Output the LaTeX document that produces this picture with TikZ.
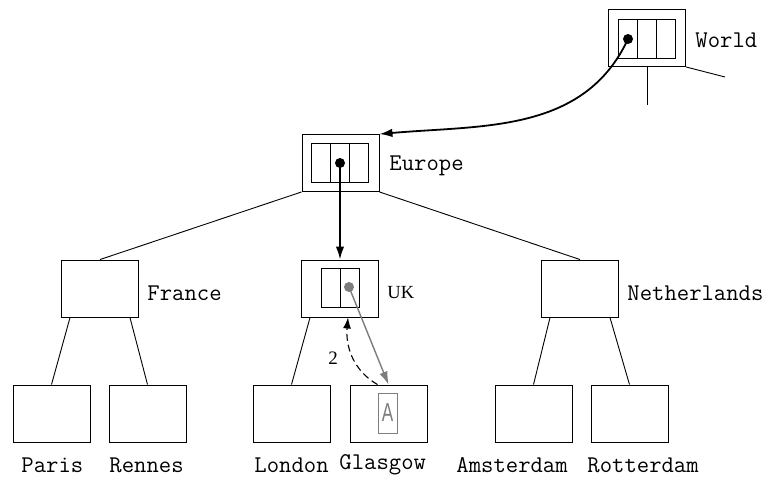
\documentclass[tikz,border=0pt]{standalone}
\usepackage{fontspec}
\setmainfont{Liberation Serif}
\setsansfont{Liberation Sans}
\usetikzlibrary{arrows.meta,positioning,calc}
\definecolor{pointergray}{RGB}{125,125,125}

\begin{document}
\begin{tikzpicture}[x=1pt,y=1pt,line width=0.9pt,
    box/.style={draw, minimum width=77pt, minimum height=57pt, inner sep=0pt},
    cell/.style={draw, minimum width=19pt, minimum height=39pt, inner sep=0pt},
    regionlabel/.style={font=\fontsize{24}{28}\selectfont\ttfamily, anchor=west, inner sep=0pt},
    leaflabel/.style={font=\fontsize{24}{28}\selectfont\ttfamily, anchor=west, inner sep=0pt},
    ptr/.style={-{Latex[length=13pt,width=8.5pt]}, line width=1.8pt},
    dot/.style={circle, fill, inner sep=0pt, minimum size=10pt}]
    \useasboundingbox (0,0) rectangle (771,477);

    % world
    \node[box] (world) at (647,439) {};
    \node[cell] (wc1) at (628,438) {};
    \node[cell] (wc2) at (647,438) {};
    \node[cell] (wc3) at (666,438) {};
    \node[dot] (wdot) at (628,438) {};
    \node[regionlabel] at (695,437) {World};
    \coordinate (worldstub) at (647,372);
    \coordinate (worldside) at (725,400);

    % europe
    \node[box] (europe) at (340.5,314) {};
    \node[cell] (ec1) at (321,314) {};
    \node[cell] (ec2) at (340,314) {};
    \node[cell] (ec3) at (359,314) {};
    \node[dot] (edot) at (340,314) {};
    \node[regionlabel] at (389,311) {Europe};

    % countries
    \node[box] (france) at (100,188.5) {};
    \node[regionlabel] at (147,184) {France};
    \node[box] (uk) at (340,188.5) {};
    \node[cell] (uc1) at (330.5,189.5) {};
    \node[cell] (uc2) at (349.5,189.5) {};
    \node[dot, pointergray] (ukdot) at (349,190) {};
    \node[anchor=west, inner sep=0pt, font=\fontsize{18.5}{22}\selectfont\rmfamily] at (387,184) {UK};
    \node[box] (netherlands) at (580,188.5) {};
    \node[regionlabel] at (627,184) {Netherlands};

    % cities
    \node[box] (paris) at (51.5,63.5) {};
    \node[box] (rennes) at (147.5,63.5) {};
    \node[box] (london) at (291.5,63.5) {};
    \node[box] (glasgow) at (388.5,63.5) {};
    \node[box] (amsterdam) at (533.5,63.5) {};
    \node[box] (rotterdam) at (629.5,63.5) {};
    \node[draw=pointergray, minimum width=19pt, minimum height=40pt, inner sep=0pt,
          text=pointergray, font=\fontsize{26}{30}\selectfont\sffamily] (entry) at (387.5,64) {\scalebox{0.66}[1]{A}};

    \node[leaflabel] at (21,12) {Paris};
    \node[leaflabel] at (109,12) {Rennes};
    \node[leaflabel] at (254,12) {London};
    \node[leaflabel] at (339,12) {Glasgow};
    \node[leaflabel] at (456,12) {Amsterdam};
    \node[leaflabel] at (587,12) {Rotterdam};

    % tree edges
    \draw (world.south) -- (worldstub);
    \draw (world.south east) -- (worldside);
    \draw (europe.south west) -- (france.north);
    \draw (europe.south east) -- (netherlands.north);
    \draw ([xshift=9pt]france.south west) -- (paris.north);
    \draw ([xshift=-9pt]france.south east) -- (rennes.north);
    \draw ([xshift=9pt]uk.south west) -- (london.north);
    \draw ([xshift=9pt]netherlands.south west) -- (amsterdam.north);
    \draw ([xshift=-9pt]netherlands.south east) -- (rotterdam.north);

    % pointers
    \draw[ptr] (wdot.center) to[out=-115,in=5] (europe.north east);
    \draw[ptr] (edot.center) -- (uk.north);
    \draw[ptr, pointergray, line width=1.4pt] (ukdot.center) -- (glasgow.north);
    \draw[-{Latex[length=11pt,width=8pt]}, dash pattern=on 7pt off 4pt, line width=1.1pt]
        ([xshift=-11pt]glasgow.north) to[out=150,in=-95] ([xshift=8pt]uk.south);
    \node[font=\fontsize{19}{22}\selectfont\rmfamily] (step2) at (333,119) {2};
\end{tikzpicture}
\end{document}
